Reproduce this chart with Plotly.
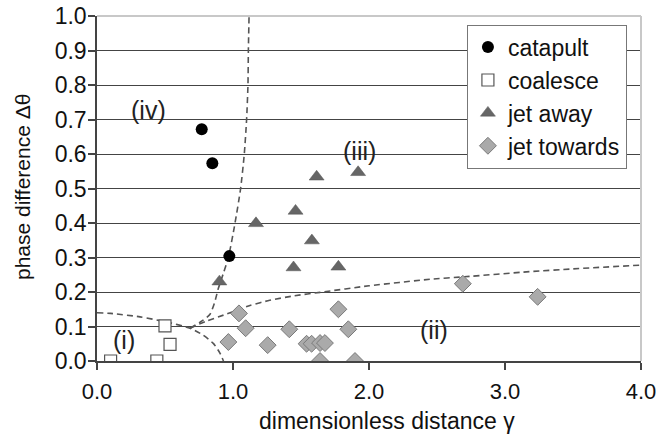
import plotly.graph_objects as go

# ---- data ----
catapult_x = [0.77, 0.848, 0.973]
catapult_y = [0.672, 0.573, 0.304]

coalesce_x = [0.10, 0.44, 0.50, 0.537]
coalesce_y = [0.0, 0.0, 0.102, 0.048]

jet_away_x = [1.615, 1.92, 1.46, 1.169, 1.58, 1.445, 1.775, 0.90]
jet_away_y = [0.534, 0.547, 0.435, 0.399, 0.349, 0.271, 0.273, 0.23]

jet_towards_x = [0.966, 1.044, 1.093, 1.255, 1.414, 1.541, 1.578, 1.64, 1.676,
                 1.64, 1.897, 1.775, 1.848, 2.69, 3.24]
jet_towards_y = [0.055, 0.138, 0.095, 0.046, 0.092, 0.05, 0.05, 0.052, 0.052,
                 0.0, 0.0, 0.15, 0.092, 0.224, 0.186]

# boundary curves
b_i_x = [0.0, 0.1, 0.316, 0.5, 0.684, 0.78, 0.855, 0.904, 0.93]
b_i_y = [0.14, 0.138, 0.128, 0.114, 0.095, 0.075, 0.051, 0.023, 0.0]

b_ii_x = [0.684, 0.8, 0.93, 1.05, 1.125, 1.27, 1.45, 1.64, 2.0, 2.45, 2.7, 3.18, 3.5, 4.0]
b_ii_y = [0.095, 0.115, 0.133, 0.15, 0.161, 0.176, 0.189, 0.199, 0.218, 0.237, 0.244, 0.259, 0.267, 0.278]

b_iv_x = [0.684, 0.76, 0.83, 0.865, 0.892, 0.93, 0.966, 1.015, 1.056, 1.083, 1.10, 1.11, 1.113, 1.118]
b_iv_y = [0.095, 0.113, 0.135, 0.17, 0.21, 0.255, 0.3, 0.4, 0.5, 0.6, 0.7, 0.8, 0.9, 1.0]

region_labels = ["(i)", "(ii)", "(iii)", "(iv)"]
region_x = [0.2, 2.48, 1.93, 0.375]
region_y = [0.06, 0.09, 0.61, 0.728]

x_ticks = [0, 1, 2, 3, 4]
y_ticks = [0.0, 0.1, 0.2, 0.3, 0.4, 0.5, 0.6, 0.7, 0.8, 0.9, 1.0]

FONT = "Liberation Sans, Arial, sans-serif"
DARK = "#444444"
BORDER = "#c8c8c8"

fig = go.Figure()

dash_style = dict(color="#555555", width=1.6, dash="6px,4px", shape="spline", smoothing=0.6)
for bx, by in [(b_i_x, b_i_y), (b_ii_x, b_ii_y), (b_iv_x, b_iv_y)]:
    fig.add_trace(go.Scatter(x=bx, y=by, mode="lines", line=dash_style,
                             showlegend=False, hoverinfo="skip"))

fig.add_trace(go.Scatter(x=catapult_x, y=catapult_y, mode="markers", name="catapult",
                         marker=dict(symbol="circle", size=12, color="#000000",
                                     line=dict(color="#000000", width=0))))
fig.add_trace(go.Scatter(x=coalesce_x, y=coalesce_y, mode="markers", name="coalesce",
                         marker=dict(symbol="square", size=12, color="#ffffff",
                                     line=dict(color="#555555", width=1.2))))
fig.add_trace(go.Scatter(x=jet_away_x, y=jet_away_y, mode="markers", name="jet away",
                         marker=dict(symbol="triangle-up", size=13, color="#666666",
                                     line=dict(color="#555555", width=0.5))))
fig.add_trace(go.Scatter(x=jet_towards_x, y=jet_towards_y, mode="markers", name="jet towards",
                         marker=dict(symbol="diamond", size=13, color="#aaaaaa",
                                     line=dict(color="#7a7a7a", width=1))))

for t, x, y in zip(region_labels, region_x, region_y):
    fig.add_annotation(x=x, y=y, text=t, showarrow=False,
                       font=dict(family=FONT, size=25, color="#222222"))

fig.add_annotation(xref="paper", yref="paper", x=0.533, y=-0.174, xanchor="center",
                   yanchor="middle", text="dimensionless distance γ",
                   showarrow=False, font=dict(family=FONT, size=23, color="#111111"))
fig.add_annotation(xref="paper", yref="paper", x=-0.138, y=0.504, xanchor="center",
                   yanchor="middle", text="phase difference Δθ",
                   textangle=-90, showarrow=False, font=dict(family=FONT, size=21, color="#111111"))

# light plot-area border on top and right
fig.add_shape(type="line", xref="paper", yref="paper", x0=0, x1=1, y0=1, y1=1,
              line=dict(color=BORDER, width=2), layer="above")
fig.add_shape(type="line", xref="paper", yref="paper", x0=1, x1=1, y0=0, y1=1,
              line=dict(color=BORDER, width=2), layer="above")

fig.update_layout(
    width=659, height=438,
    margin=dict(l=97, r=18, t=16, b=77),
    paper_bgcolor="white", plot_bgcolor="white",
    font=dict(family=FONT, size=22, color="#111111"),
    legend=dict(x=0.68, y=0.975, xanchor="left", yanchor="top",
                bgcolor="white", bordercolor="#777777", borderwidth=1,
                font=dict(family=FONT, size=23, color="#111111"),
                itemwidth=30, tracegroupgap=0),
    xaxis=dict(range=[0, 4], tickvals=x_ticks, tickformat=".1f", ticks="outside",
               ticklen=7, tickcolor=DARK, tickwidth=1.5, showgrid=False,
               showline=True, linecolor=DARK, linewidth=1.5, zeroline=False,
               ticklabelstandoff=3, automargin=False, ticklabeloverflow="allow",
               tickfont=dict(family=FONT, size=22, color="#111111")),
    yaxis=dict(range=[0, 1], tickvals=y_ticks, tickformat=".1f", ticks="outside",
               ticklen=7, tickcolor=DARK, tickwidth=1.5, showgrid=True,
               gridcolor=DARK, gridwidth=1.4, showline=True, linecolor=DARK,
               linewidth=1.5, zeroline=False, automargin=False,
               ticklabelstandoff=-3, ticklabeloverflow="allow",
               tickfont=dict(family=FONT, size=23, color="#111111")),
)

# remove the default 8px page margin so the figure sits at the window's corner
fig.write_html("out.html", config={"displayModeBar": False},
               post_script="document.body.style.margin='0px';")
